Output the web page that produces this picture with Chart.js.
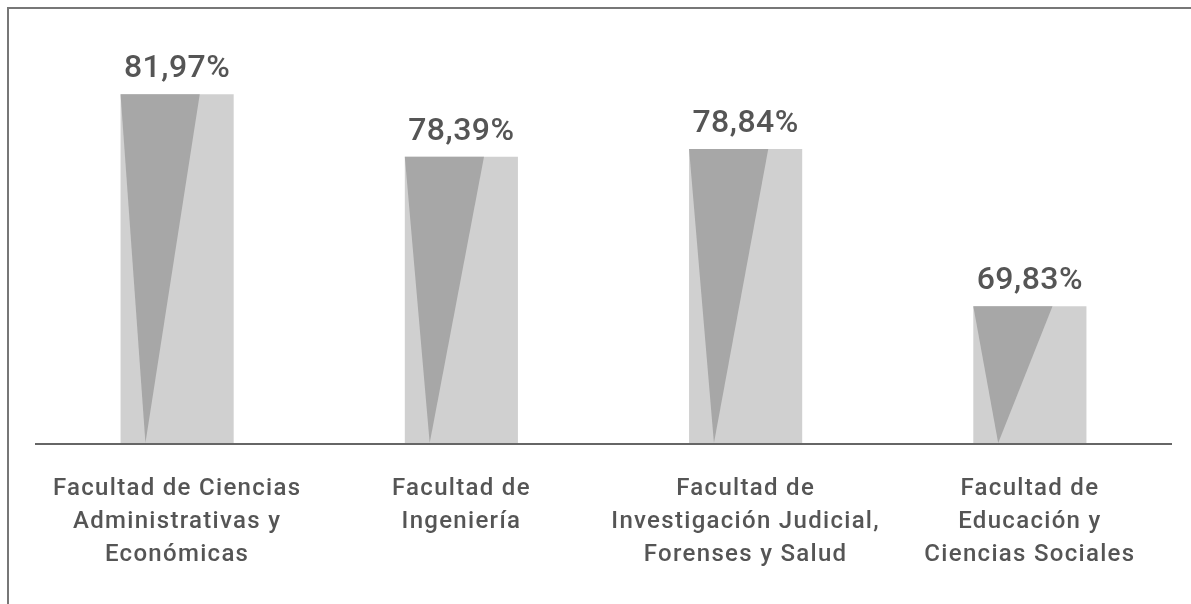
<!DOCTYPE html>
<html>
<head>
<meta charset="utf-8">
<script src="https://cdn.jsdelivr.net/npm/chart.js@4"></script>
<style>
    html, body { margin: 0; padding: 0; background: #fff; }
    #wrap { position: relative; width: 1191px; height: 604px; }
    #frameTop { position: absolute; left: 7px; top: 7px; right: 0; height: 2px; background: #777; }
    #frameLeft { position: absolute; left: 7px; top: 7px; bottom: 0; width: 2px; background: #777; }
</style>
</head>
<body>
<div id="wrap">
    <canvas id="myChart" width="1191" height="604"></canvas>
    <div id="frameTop"></div>
    <div id="frameLeft"></div>
</div>
<script>
const categories = [
    ["Facultad de Ciencias", "Administrativas y", "Económicas"],
    ["Facultad de", "Ingeniería"],
    ["Facultad de", "Investigación Judicial,", "Forenses y Salud"],
    ["Facultad de", "Educación y", "Ciencias Sociales"],
];
const values = [81.97, 78.39, 78.84, 69.83];
const valueLabels = ["81,97%", "78,39%", "78,84%", "69,83%"];

const textColor = "#555555";

// darker wedge drawn inside every bar + value label on top
const wedgePlugin = {
    id: "wedge",
    beforeDraw(chart) {
        chart.ctx.letterSpacing = "1.3px";
    },
    afterDatasetsDraw(chart) {
        const ctx = chart.ctx;
        const meta = chart.getDatasetMeta(0);
        const area = chart.chartArea;
        ctx.save();
        meta.data.forEach((bar, i) => {
            const w = bar.width;
            const left = bar.x - w / 2;
            ctx.fillStyle = "#a7a7a7";
            ctx.beginPath();
            ctx.moveTo(left, bar.y);
            ctx.lineTo(left + w * 0.7, bar.y);
            ctx.lineTo(left + w * 0.22, area.bottom);
            ctx.closePath();
            ctx.fill();

            ctx.letterSpacing = "0.5px";
            ctx.fillStyle = textColor;
            ctx.font = "500 32px Roboto";
            ctx.textAlign = "center";
            ctx.textBaseline = "alphabetic";
            ctx.fillText(valueLabels[i], bar.x, bar.y - 17);
        });
        // baseline axis
        ctx.strokeStyle = "#666666";
        ctx.lineWidth = 2;
        ctx.beginPath();
        ctx.moveTo(area.left, area.bottom + 1);
        ctx.lineTo(area.right, area.bottom + 1);
        ctx.stroke();
        ctx.restore();
    },
};

const canvas = document.getElementById("myChart");
const ctx = canvas.getContext("2d");

const myChart = new Chart(ctx, {
    type: "bar",
    data: {
        labels: categories,
        datasets: [
            {
                data: values,
                backgroundColor: "#d0d0d0",
                borderWidth: 0,
                barPercentage: 0.398,
                categoryPercentage: 1,
            },
        ],
    },
    options: {
        responsive: false,
        animation: false,
        devicePixelRatio: 1,
        layout: { padding: { top: 24, left: 35, right: 19, bottom: 0 } },
        plugins: {
            legend: { display: false },
            tooltip: { enabled: false },
        },
        scales: {
            y: {
                display: false,
                min: 62,
                max: 86,
            },
            x: {
                grid: { display: false, drawTicks: false },
                border: { display: false },
                ticks: {
                    color: textColor,
                    font: { family: "Roboto", size: 24, weight: "500", lineHeight: 1.375 },
                    padding: 29,
                    maxRotation: 0,
                    autoSkip: false,
                },
                afterFit: (scale) => {
                    scale.height = 161;
                },
            },
        },
    },
    plugins: [wedgePlugin],
});
</script>
</body>
</html>
